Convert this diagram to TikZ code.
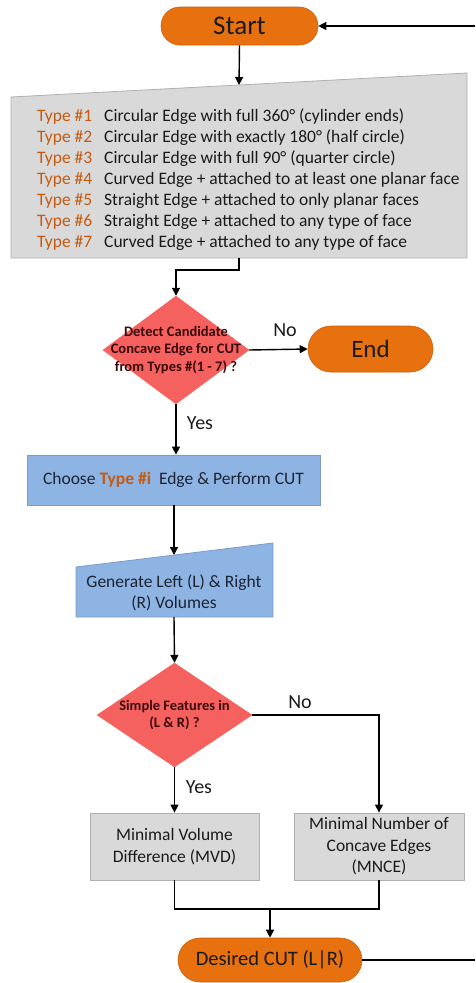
\documentclass[tikz,border=0pt]{standalone}
\usepackage{fontspec}
\setmainfont{Carlito}
\usetikzlibrary{arrows.meta,shapes.geometric}

\definecolor{pillfill}{HTML}{E8710F}
\definecolor{pilldraw}{HTML}{C9600C}
\definecolor{greyfill}{HTML}{D9D9D9}
\definecolor{greydraw}{HTML}{B0B0B0}
\definecolor{bluefill}{HTML}{8EB4E3}
\definecolor{bluedraw}{HTML}{7C9CC8}
\definecolor{redfill}{HTML}{F5615F}
\definecolor{typecol}{HTML}{C55A11}
\definecolor{ink}{HTML}{1A1A1A}
\definecolor{redink}{HTML}{3A0A0A}
\definecolor{blueink}{HTML}{1C2433}

\tikzset{
  pill/.style={rectangle, rounded corners=#1, fill=pillfill, draw=pilldraw, line width=0.6pt, inner sep=0pt, text=ink},
  greybox/.style={rectangle, fill=greyfill, draw=greydraw, line width=0.8pt, inner sep=0pt, align=center, text=ink, font=\fontsize{17.5}{21.5}\selectfont},
  bluebox/.style={rectangle, fill=bluefill, draw=bluedraw, line width=0.8pt, inner sep=0pt, text=blueink},
  decision/.style={diamond, fill=redfill, draw=redfill, inner sep=0pt},
  decisiontext/.style={align=center, text=redink, font=\bfseries\fontsize{14.5}{17.5}\selectfont},
  flow/.style={line width=1.4pt, draw=black},
  arr/.style={flow, -{Triangle[length=8pt,width=8pt]}},
  answer/.style={text=ink, font=\fontsize{20}{24}\selectfont},
  typelbl/.style={anchor=base west, inner sep=0pt, text=typecol, font=\fontsize{17.5}{21}\selectfont},
  typetxt/.style={anchor=base west, inner sep=0pt, text=ink, font=\fontsize{17.5}{21}\selectfont}
}

\begin{document}
\begin{tikzpicture}[x=1pt,y=-1pt]
\useasboundingbox (0,0) rectangle (475,983);

% start / end terminals
\node[pill=19pt, minimum width=157pt, minimum height=38pt, font=\fontsize{27}{30}\selectfont] (start) at (239.5,26) {Start};
\node[pill=23pt, minimum width=125pt, minimum height=46pt, font=\fontsize{25}{28}\selectfont] (end) at (370.5,349) {End};

% list of edge types (manual input shape)
\path[fill=greyfill, draw=greydraw, line width=0.8pt] (11,97) -- (467,73) -- (467,258) -- (11,258) -- cycle;
\coordinate (listtop) at (239,85);
\coordinate (listbot) at (239,258);
\foreach \n/\t [count=\i] in {
  1/{Circular Edge with full 360° (cylinder ends)},
  2/{Circular Edge with exactly 180° (half circle)},
  3/{Circular Edge with full 90° (quarter circle)},
  4/{Curved Edge + attached to at least one planar face},
  5/{Straight Edge + attached to only planar faces},
  6/{Straight Edge + attached to any type of face},
  7/{Curved Edge + attached to any type of face}} {
  \node[typelbl] (tl\i) at (37,100+21*\i) {Type \#\n};
  \node[typetxt] (tt\i) at (104,100+21*\i) {\t};
}

% first decision
\node[decision, minimum width=146pt, minimum height=108pt] (d1) at (176,350) {};
\node[decisiontext] (d1t) at (176,350) {Detect Candidate\\Concave Edge for CUT\\from Types \#(1 - 7) ?};

% choose edge and cut
\node[bluebox, minimum width=293pt, minimum height=50pt, font=\fontsize{17.5}{21}\selectfont] (choose) at (173.5,480)
  {Choose {\bfseries\color{typecol}Type \#i} \ Edge \& Perform CUT};

% generate volumes (manual input shape)
\path[fill=bluefill, draw=bluedraw, line width=0.8pt] (76,567) -- (273,543) -- (273,617) -- (76,617) -- cycle;
\coordinate (gentop) at (174,555);
\coordinate (genbot) at (174,617);
\node[align=center, text=blueink, font=\fontsize{17.5}{21}\selectfont] (gent) at (174,592.5) {Generate Left (L) \& Right\\(R) Volumes};

% second decision
\node[decision, minimum width=155pt, minimum height=104pt] (d2) at (174.5,715) {};
\node[decisiontext] (d2t) at (174.5,715) {Simple Features in\\(L \& R) ?};

% criteria
\node[greybox, minimum width=169pt, minimum height=67pt] (mvd) at (174.5,846.5) {Minimal Volume\\Difference (MVD)};
\node[greybox, minimum width=170pt, minimum height=67pt] (mnce) at (379,846.5) {Minimal Number of\\Concave Edges\\(MNCE)};

% result
\node[pill=22pt, minimum width=184pt, minimum height=44pt, font=\fontsize{20.5}{24}\selectfont] (cut) at (270,960) {Desired CUT (L|R)};

% connectors
\coordinate (loopin) at (475,26);
\coordinate (loopout) at (475,960);
\coordinate (merge) at (270,909);

\draw[arr] (loopin) -- (start.east);
\draw[arr] (start.south) -- (listtop);
\draw[arr] (listbot) -- ++(0,12) -| (d1.north);
\draw[arr] (d1.east) -- (end.west);
\draw[arr] (d1.south) -- (d1.south |- choose.north);
\draw[arr] (choose.south -| gentop) -- (gentop);
\draw[arr] (genbot) -- (d2.north);
\draw[arr] (d2.east) -| (mnce.north);
\draw[arr] (d2.south) -- (mvd.north);
\draw[flow] (mvd.south) |- (merge) -| (mnce.south);
\draw[arr] (merge) -- (cut.north);
\draw[flow] (cut.east) -- (loopout);

% branch labels
\node[answer] (no1) at (285,330) {No};
\node[answer] (yes1) at (200,423) {Yes};
\node[answer] (no2) at (300,702) {No};
\node[answer] (yes2) at (199,787) {Yes};
\end{tikzpicture}
\end{document}
